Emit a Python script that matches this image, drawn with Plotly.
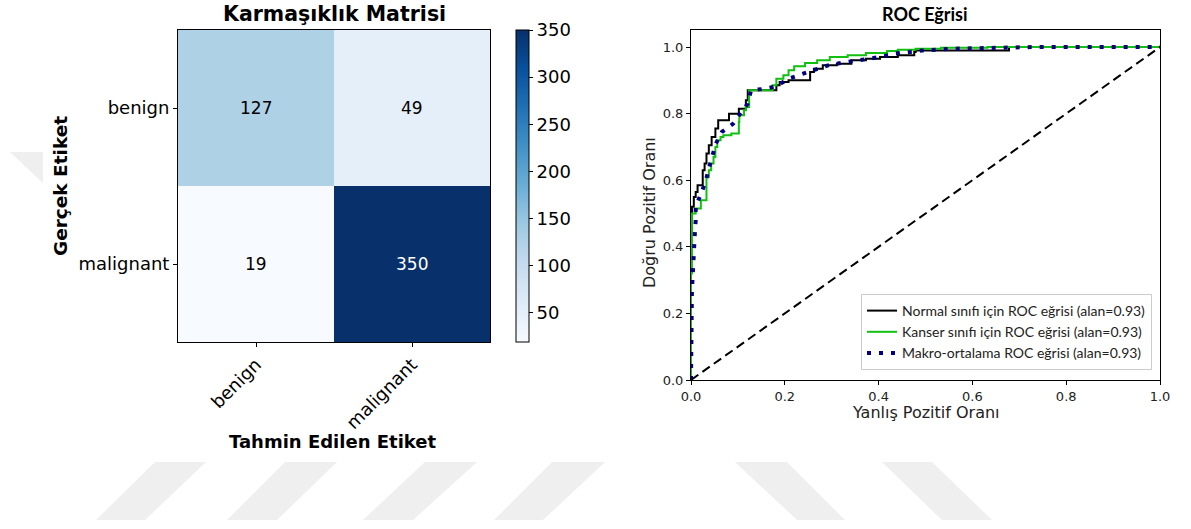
import plotly.graph_objects as go

W, H = 1191, 529

# ---- confusion matrix data ----
classes = ["benign", "malignant"]
conf_matrix = [[127, 49],
               [19, 350]]
cbar_ticks = [50, 100, 150, 200, 250, 300, 350]

# ---- ROC curve data ----
normal_fpr = [0.0, 0.0, 0.002, 0.006, 0.010, 0.014, 0.018, 0.025, 0.029, 0.033, 0.038,
              0.044, 0.052, 0.058, 0.069, 0.081, 0.090, 0.102, 0.105, 0.117, 0.121,
              0.128, 0.132, 0.182, 0.189, 0.208, 0.227, 0.254, 0.262, 0.281, 0.311,
              0.342, 0.373, 0.403, 0.441, 0.476, 0.479, 0.495, 0.678, 0.685, 1.0]
normal_tpr = [0.0, 0.25, 0.44, 0.52, 0.55, 0.565, 0.585, 0.585, 0.63, 0.65, 0.68,
              0.705, 0.73, 0.755, 0.78, 0.78, 0.80, 0.80, 0.815, 0.815, 0.84,
              0.87, 0.87, 0.87, 0.885, 0.895, 0.90, 0.90, 0.925, 0.935, 0.945,
              0.95, 0.96, 0.965, 0.97, 0.975, 0.985, 0.99, 0.99, 1.0, 1.0]

cancer_fpr = [0.0, 0.002, 0.009, 0.010, 0.021, 0.033, 0.033, 0.038, 0.043, 0.048,
              0.052, 0.056, 0.063, 0.069, 0.086, 0.090, 0.102, 0.103, 0.113, 0.117,
              0.124, 0.128, 0.174, 0.182, 0.197, 0.208, 0.220, 0.243, 0.269, 0.296,
              0.334, 0.373, 0.418, 0.441, 0.479, 0.533, 0.632, 0.708, 1.0]
cancer_tpr = [0.0, 0.32, 0.50, 0.50, 0.515, 0.54, 0.58, 0.61, 0.63, 0.65,
              0.67, 0.70, 0.72, 0.73, 0.735, 0.74, 0.74, 0.775, 0.795, 0.81,
              0.82, 0.87, 0.87, 0.885, 0.905, 0.915, 0.93, 0.942, 0.952, 0.96,
              0.97, 0.975, 0.982, 0.988, 0.992, 0.995, 0.998, 1.0, 1.0]

macro_fpr = [0.0, 0.002, 0.005, 0.006, 0.008, 0.010, 0.010, 0.020, 0.031, 0.038,
             0.046, 0.053, 0.066, 0.090, 0.105, 0.121, 0.128, 0.159, 0.182, 0.208,
             0.235, 0.262, 0.292, 0.327, 0.357, 0.403, 0.434, 0.495, 0.556, 0.632,
             0.731, 1.0]
macro_tpr = [0.0, 0.27, 0.35, 0.395, 0.435, 0.48, 0.52, 0.555, 0.595, 0.635,
             0.675, 0.71, 0.745, 0.77, 0.80, 0.83, 0.87, 0.875, 0.882, 0.905,
             0.918, 0.932, 0.945, 0.954, 0.96, 0.97, 0.98, 0.99, 0.995, 0.997,
             1.0, 1.0]

chance = [0.0, 1.0]
roc_ticks = [0.0, 0.2, 0.4, 0.6, 0.8, 1.0]
legend_names = ["Normal sınıfı için ROC eğrisi (alan=0.93)",
                "Kanser sınıfı için ROC eğrisi (alan=0.93)",
                "Makro-ortalama ROC eğrisi (alan=0.93)"]

# matplotlib "Blues"
blues = [[0.0, "rgb(247,251,255)"], [0.125, "rgb(222,235,247)"],
         [0.25, "rgb(198,219,239)"], [0.375, "rgb(158,202,225)"],
         [0.5, "rgb(107,174,214)"], [0.625, "rgb(66,146,198)"],
         [0.75, "rgb(33,113,181)"], [0.875, "rgb(8,81,156)"],
         [1.0, "rgb(8,48,107)"]]

MPL = "DejaVu Sans"
CAL = "Lato"


def px(x, y):
    return x / W, 1 - y / H


zmin = min(min(r) for r in conf_matrix)
zmax = max(max(r) for r in conf_matrix)

fig = go.Figure()

fig.add_trace(go.Heatmap(
    z=conf_matrix, x=list(range(len(classes))), y=list(range(len(classes))),
    colorscale=blues, zmin=zmin, zmax=zmax, xaxis="x", yaxis="y",
    hoverinfo="skip", showscale=True,
    colorbar=dict(
        x=516 / W, xanchor="left", xpad=0,
        y=1 - 186 / H, yanchor="middle", ypad=0,
        len=312 / H, lenmode="fraction", thickness=13,
        outlinecolor="black", outlinewidth=1,
        ticks="outside", ticklen=4, tickcolor="black",
        tickvals=cbar_ticks, tickfont=dict(family=MPL, size=18, color="black"),
    ),
))

fig.add_trace(go.Scatter(
    x=normal_fpr, y=normal_tpr, mode="lines", name=legend_names[0],
    line=dict(color="black", width=2, shape="vh"), xaxis="x2", yaxis="y2"))
fig.add_trace(go.Scatter(
    x=cancer_fpr, y=cancer_tpr, mode="lines", name=legend_names[1],
    line=dict(color="#11c011", width=2, shape="vh"), xaxis="x2", yaxis="y2"))
fig.add_trace(go.Scatter(
    x=macro_fpr, y=macro_tpr, mode="lines", name=legend_names[2],
    line=dict(color="navy", width=4, dash="4px,8px"), xaxis="x2", yaxis="y2"))
fig.add_trace(go.Scatter(
    x=chance, y=chance, mode="lines", showlegend=False,
    line=dict(color="black", width=2, dash="9px,5px"), xaxis="x2", yaxis="y2"))

# value labels on the confusion matrix cells
thresh = zmax / 2
annotations = []
for i, row in enumerate(conf_matrix):
    for j, v in enumerate(row):
        annotations.append(dict(
            x=j, y=i, xref="x", yref="y", text=str(v), showarrow=False,
            font=dict(family=MPL, size=17, color="white" if v > thresh else "black")))


def label(text, x, y, size, family=MPL, bold=False, angle=0, color="black"):
    fx, fy = px(x, y)
    return dict(x=fx, y=fy, xref="paper", yref="paper", showarrow=False,
                text=f"<b>{text}</b>" if bold else text, textangle=angle,
                xanchor="center", yanchor="middle",
                font=dict(family=family, size=size, color=color))


annotations += [
    label("Karmaşıklık Matrisi", 334, 14, 20.5, bold=True),
    label("Tahmin Edilen Etiket", 333, 441, 18, bold=True),
    label("Gerçek Etiket", 60, 186, 18.5, bold=True, angle=-90),
    label("ROC Eğrisi", 925, 14, 18, family=CAL, bold=True),
    label("Yanlış Pozitif Oranı", 926, 412, 16, color="#222"),
    label("Doğru Pozitif Oranı", 649, 213, 16, angle=-90, color="#222"),
]

# light diagonal band pattern printed across the page
bands = [
    [(155, 462), (206, 462), (145, 520), (96, 520)],
    [(285, 462), (337, 462), (277, 520), (227, 520)],
    [(425, 462), (477, 462), (413, 520), (363, 520)],
    [(552, 462), (605, 462), (543, 520), (494, 520)],
    [(735, 462), (787, 462), (845, 520), (797, 520)],
    [(882, 462), (932, 462), (992, 520), (942, 520)],
    [(10, 152), (43, 152), (43, 183)],
]
shapes = []
for poly in bands:
    pts = [px(x, y) for x, y in poly]
    path = "M " + " L ".join(f"{a:.5f},{b:.5f}" for a, b in pts) + " Z"
    shapes.append(dict(type="path", path=path, xref="paper", yref="paper",
                       fillcolor="#efefef", line=dict(width=0), layer="below"))

axis_common = dict(showgrid=False, zeroline=False, showline=True, mirror=True,
                   linecolor="black", linewidth=1, ticks="outside", ticklen=4,
                   tickcolor="black", automargin=False)

fig.update_layout(
    width=W, height=H, margin=dict(l=0, r=0, t=0, b=0, pad=0, autoexpand=False),
    paper_bgcolor="white", plot_bgcolor="white",
    xaxis=dict(domain=[178 / W, 490 / W], range=[-0.5, 1.5], anchor="y",
               tickvals=list(range(len(classes))), ticktext=classes, tickangle=-45,
               tickfont=dict(family=MPL, size=18, color="black"), **axis_common),
    yaxis=dict(domain=[1 - 342 / H, 1 - 30 / H], range=[1.5, -0.5], anchor="x",
               tickvals=list(range(len(classes))), ticktext=classes,
               tickfont=dict(family=MPL, size=18, color="black"), **axis_common),
    xaxis2=dict(domain=[691 / W, 1160 / W], range=[0, 1], anchor="y2",
                tickvals=roc_ticks, tickformat=".1f",
                tickfont=dict(family=MPL, size=13, color="#222"), **axis_common),
    yaxis2=dict(domain=[1 - 380 / H, 1 - 30.4 / H], range=[0, 1.05], anchor="x2",
                tickvals=roc_ticks, tickformat=".1f",
                tickfont=dict(family=MPL, size=13, color="#222"), **axis_common),
    legend=dict(x=1152 / W, xanchor="right", y=1 - 370 / H, yanchor="bottom",
                bgcolor="rgba(255,255,255,0.85)", bordercolor="#cccccc", borderwidth=1,
                font=dict(family=CAL, size=14, color="#222"), tracegroupgap=0,
                itemwidth=30),
    annotations=annotations,
    shapes=shapes,
)

fig.write_html("out.html")
